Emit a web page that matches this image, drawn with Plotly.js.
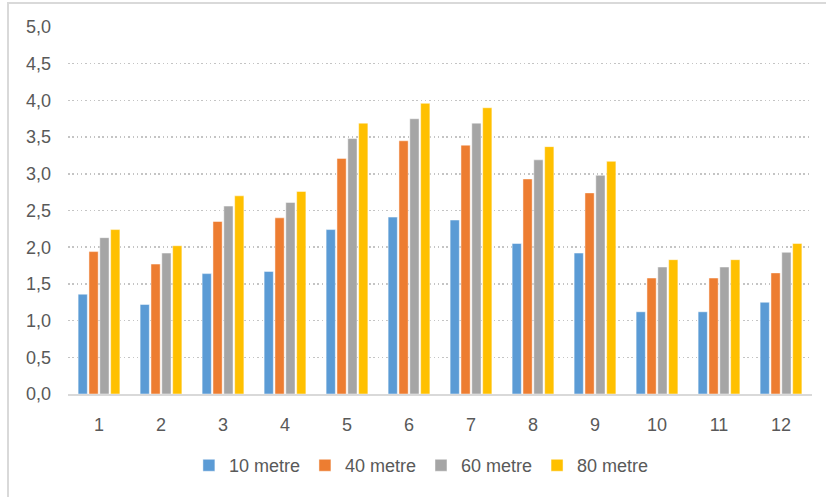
<!DOCTYPE html>
<html>
<head>
<meta charset="utf-8">
<script src="https://cdn.plot.ly/plotly-3.0.1.min.js"></script>
<style>
  html, body { margin: 0; padding: 0; background: #ffffff; }
  #wrap { position: relative; width: 826px; height: 497px; overflow: hidden; }
  #frame { position: absolute; left: 7px; top: 2px; width: 830px; height: 510px;
           border-left: 2px solid #d9d9d9; border-top: 2px solid #d9d9d9; pointer-events: none; }
  #chart { position: absolute; left: 0; top: 0; width: 826px; height: 497px; }
</style>
</head>
<body>
<div id="wrap">
  <div id="chart"></div>
  <div id="frame"></div>
</div>
<script>
// Twelve measurement points, four heights
const categories = ['1', '2', '3', '4', '5', '6', '7', '8', '9', '10', '11', '12'];

const m10 = [1.36, 1.22, 1.64, 1.67, 2.24, 2.41, 2.37, 2.05, 1.92, 1.12, 1.12, 1.25];
const m40 = [1.94, 1.77, 2.35, 2.40, 3.21, 3.45, 3.39, 2.93, 2.74, 1.58, 1.58, 1.65];
const m60 = [2.13, 1.92, 2.56, 2.61, 3.48, 3.75, 3.69, 3.19, 2.98, 1.73, 1.73, 1.93];
const m80 = [2.24, 2.02, 2.70, 2.76, 3.69, 3.96, 3.90, 3.37, 3.17, 1.83, 1.83, 2.05];

const seriesNames = ['10 metre', '40 metre', '60 metre', '80 metre'];
const seriesValues = [m10, m40, m60, m80];
const seriesColors = ['#5B9BD5', '#ED7D31', '#A5A5A5', '#FFC000'];

const yTicks = [0, 0.5, 1, 1.5, 2, 2.5, 3, 3.5, 4, 4.5, 5];
const yTickText = yTicks.map(v => v.toFixed(1).replace('.', ','));

const traces = seriesValues.map((vals, i) => ({
  type: 'bar',
  name: seriesNames[i],
  x: categories,
  y: vals,
  marker: { color: seriesColors[i], line: { color: 'rgba(255,255,255,0.6)', width: 0.8 } },
  hoverinfo: 'skip'
}));

const font = { family: 'Liberation Sans, Arial, sans-serif', size: 18, color: '#595959' };

const layout = {
  width: 826,
  height: 497,
  margin: { l: 68, r: 14, t: 27, b: 103, pad: 0 },
  paper_bgcolor: '#ffffff',
  plot_bgcolor: '#ffffff',
  font: font,
  barmode: 'group',
  bargap: 0.3,
  bargroupgap: 0.15,
  showlegend: true,
  legend: {
    orientation: 'h',
    x: 0.475, xanchor: 'center',
    y: -0.195, yanchor: 'middle',
    font: font,
    itemwidth: 30,
    traceorder: 'normal'
  },
  xaxis: {
    type: 'category',
    showgrid: false,
    showline: true,
    linecolor: '#d9d9d9',
    linewidth: 1.5,
    ticks: '',
    ticklabelstandoff: 14,
    tickfont: font,
    fixedrange: true
  },
  yaxis: {
    range: [0, 5],
    tickvals: yTicks,
    ticktext: yTickText,
    showgrid: true,
    gridcolor: '#c4c4c4',
    gridwidth: 1.5,
    griddash: '1.5px,2.8px',
    zeroline: false,
    showline: false,
    ticks: '',
    ticklabelstandoff: 16,
    tickfont: font,
    fixedrange: true
  }
};

Plotly.newPlot('chart', traces, layout, { displayModeBar: false, staticPlot: true });
</script>
</body>
</html>
